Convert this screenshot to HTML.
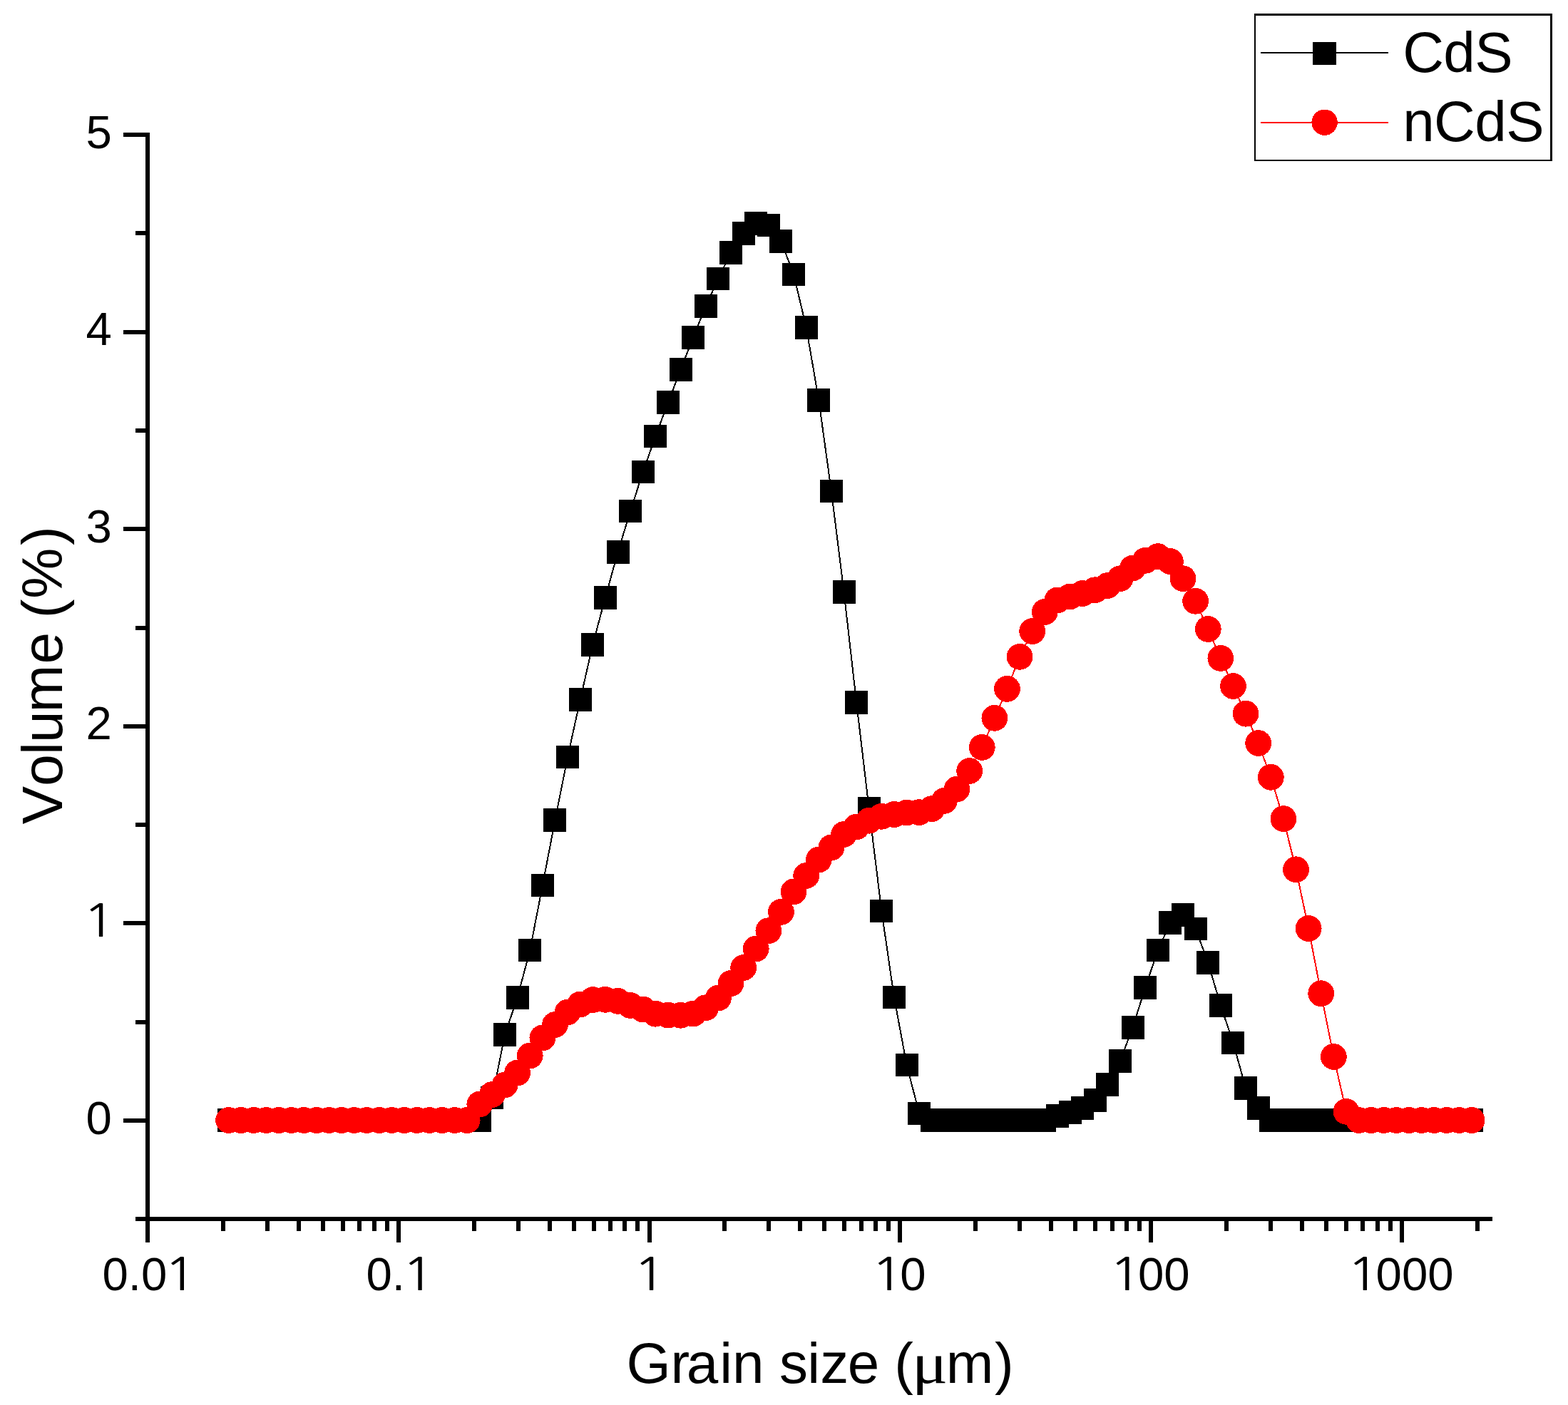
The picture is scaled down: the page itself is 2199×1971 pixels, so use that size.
<!DOCTYPE html><html><head><meta charset="utf-8"><title>Grain size distribution of CdS and nCdS</title><style>html,body{margin:0;padding:0;background:#fff}svg{display:block}svg{font-family:"Liberation Sans",Arial,sans-serif}text{fill:#000}</style></head><body>
<svg width="2199" height="1971" viewBox="0 0 2199 1971">
<rect width="2199" height="1971" fill="#fff"/>
<g stroke="#000" stroke-width="6" fill="none" shape-rendering="crispEdges">
<path d="M207 186V1713M204 1710H2093"/>
<path d="M190 1710.3H207"/>
<path d="M173 1572H207"/>
<path d="M190 1433.7H207"/>
<path d="M173 1295.4H207"/>
<path d="M190 1157.1H207"/>
<path d="M173 1018.8H207"/>
<path d="M190 880.5H207"/>
<path d="M173 742.2H207"/>
<path d="M190 603.9H207"/>
<path d="M173 465.6H207"/>
<path d="M190 327.3H207"/>
<path d="M173 189H207"/>
<path d="M207 1710V1742.5"/>
<path d="M312.9 1710V1726.5"/>
<path d="M374.84 1710V1726.5"/>
<path d="M418.79 1710V1726.5"/>
<path d="M452.88 1710V1726.5"/>
<path d="M480.74 1710V1726.5"/>
<path d="M504.29 1710V1726.5"/>
<path d="M524.69 1710V1726.5"/>
<path d="M542.68 1710V1726.5"/>
<path d="M558.78 1710V1742.5"/>
<path d="M664.68 1710V1726.5"/>
<path d="M726.62 1710V1726.5"/>
<path d="M770.57 1710V1726.5"/>
<path d="M804.66 1710V1726.5"/>
<path d="M832.52 1710V1726.5"/>
<path d="M856.07 1710V1726.5"/>
<path d="M876.47 1710V1726.5"/>
<path d="M894.46 1710V1726.5"/>
<path d="M910.56 1710V1742.5"/>
<path d="M1016.46 1710V1726.5"/>
<path d="M1078.4 1710V1726.5"/>
<path d="M1122.35 1710V1726.5"/>
<path d="M1156.44 1710V1726.5"/>
<path d="M1184.3 1710V1726.5"/>
<path d="M1207.85 1710V1726.5"/>
<path d="M1228.25 1710V1726.5"/>
<path d="M1246.24 1710V1726.5"/>
<path d="M1262.34 1710V1742.5"/>
<path d="M1368.24 1710V1726.5"/>
<path d="M1430.18 1710V1726.5"/>
<path d="M1474.13 1710V1726.5"/>
<path d="M1508.22 1710V1726.5"/>
<path d="M1536.08 1710V1726.5"/>
<path d="M1559.63 1710V1726.5"/>
<path d="M1580.03 1710V1726.5"/>
<path d="M1598.02 1710V1726.5"/>
<path d="M1614.12 1710V1742.5"/>
<path d="M1720.02 1710V1726.5"/>
<path d="M1781.96 1710V1726.5"/>
<path d="M1825.91 1710V1726.5"/>
<path d="M1860 1710V1726.5"/>
<path d="M1887.86 1710V1726.5"/>
<path d="M1911.41 1710V1726.5"/>
<path d="M1931.81 1710V1726.5"/>
<path d="M1949.8 1710V1726.5"/>
<path d="M1965.9 1710V1742.5"/>
<path d="M2071.8 1710V1726.5"/>
</g>
<text x="120.48" y="1590.6" font-size="65.3">0</text>
<text transform="scale(1.25 1)" x="92.47" y="1314" font-size="62.3" style="font-family:NanumGothic,Liberation Sans,sans-serif">1</text>
<text x="120.48" y="1037.4" font-size="65.3">2</text>
<text x="120.48" y="760.8" font-size="65.3">3</text>
<text x="120.48" y="484.2" font-size="65.3">4</text>
<text x="120.48" y="207.6" font-size="65.3">5</text>
<text x="143.45 179.77 197.91" y="1810" font-size="65.3">0.0</text>
<text transform="scale(1.25 1)" x="183.47" y="1810" font-size="62.3" style="font-family:NanumGothic,Liberation Sans,sans-serif">1</text>
<text x="513.39 549.71" y="1810" font-size="65.3">0.</text>
<text transform="scale(1.25 1)" x="450.36" y="1810" font-size="62.3" style="font-family:NanumGothic,Liberation Sans,sans-serif">1</text>
<text transform="scale(1.25 1)" x="710" y="1810" font-size="62.3" style="font-family:NanumGothic,Liberation Sans,sans-serif">1</text>
<text x="1262.34" y="1810" font-size="65.3">0</text>
<text transform="scale(1.25 1)" x="976.9" y="1810" font-size="62.3" style="font-family:NanumGothic,Liberation Sans,sans-serif">1</text>
<text x="1595.96 1632.28" y="1810" font-size="65.3">00</text>
<text transform="scale(1.25 1)" x="1243.8" y="1810" font-size="62.3" style="font-family:NanumGothic,Liberation Sans,sans-serif">1</text>
<text x="1929.58 1965.9 2002.22" y="1810" font-size="65.3">000</text>
<text transform="scale(1.25 1)" x="1510.7" y="1810" font-size="62.3" style="font-family:NanumGothic,Liberation Sans,sans-serif">1</text>
<text x="878.61 940.54 962.75 1009.13 1027.05 1093.08 1132.23 1150.22 1188.78 1254.33 1326.81 1394.88" y="1939.6" font-size="80">Grainsize(m)</text>
<text transform="scale(1.178 1)" x="1085.44" y="1939.6" font-size="80" style="font-family:Liberation Serif,serif">μ</text>
<text transform="translate(87.1 1160) rotate(-90)" x="3.72 57.35 101.04 118.01 160.86 228.58 292.88 320.23 395.08" y="0" font-size="80">Volume(%)</text>
<polyline points="320.58,1571.5 338.19,1571.5 355.8,1571.5 373.41,1571.5 391.02,1571.5 408.63,1571.5 426.25,1571.5 443.86,1571.5 461.47,1571.5 479.08,1571.5 496.69,1571.5 514.3,1571.5 531.91,1571.5 549.52,1571.5 567.13,1571.5 584.75,1571.5 602.36,1571.5 619.97,1571.5 637.58,1571.5 655.19,1571.5 672.8,1571.5 690.41,1540.2 708.02,1451.4 725.63,1399.5 743.24,1333 760.86,1242 778.47,1150.5 796.08,1061.9 813.69,981.7 831.3,904.3 848.91,838.4 866.52,774.5 884.13,716.9 901.74,661.9 919.35,612 936.96,564.5 954.58,518.4 972.19,473.4 989.8,429.5 1007.41,390.9 1025.02,354.3 1042.63,327.5 1060.24,313.6 1077.85,315.9 1095.46,338.5 1113.08,384.9 1130.69,459.4 1148.3,561.6 1165.91,689.2 1183.52,830.4 1201.13,985.4 1218.74,1134.5 1236.35,1277.9 1253.96,1399.2 1271.57,1493.8 1289.18,1562.2 1306.8,1571.5 1324.41,1571.5 1342.02,1571.5 1359.63,1571.5 1377.24,1571.5 1394.85,1571.5 1412.46,1571.5 1430.07,1571.5 1447.68,1571.5 1465.3,1571.5 1482.91,1565.5 1500.52,1560.4 1518.13,1554.5 1535.74,1543.3 1553.35,1521.5 1570.96,1488.5 1588.57,1441.4 1606.18,1385.5 1623.79,1333 1641.4,1294.4 1659.02,1283.3 1676.63,1302.9 1694.24,1350.5 1711.85,1410.5 1729.46,1463 1747.07,1526.4 1764.68,1554.4 1782.29,1571.5 1799.9,1571.5 1817.51,1571.5 1835.13,1571.5 1852.74,1571.5 1870.35,1571.5 1887.96,1571.5 1905.57,1571.5 1923.18,1571.5 1940.79,1571.5 1958.4,1571.5 1976.01,1571.5 1993.62,1571.5 2011.24,1571.5 2028.85,1571.5 2046.46,1571.5 2064.07,1571.5" fill="none" stroke="#000" stroke-width="2" shape-rendering="crispEdges"/>
<g fill="#000" shape-rendering="crispEdges">
<rect x="304.58" y="1555.25" width="32" height="32.5"/>
<rect x="322.19" y="1555.25" width="32" height="32.5"/>
<rect x="339.8" y="1555.25" width="32" height="32.5"/>
<rect x="357.41" y="1555.25" width="32" height="32.5"/>
<rect x="375.02" y="1555.25" width="32" height="32.5"/>
<rect x="392.63" y="1555.25" width="32" height="32.5"/>
<rect x="410.25" y="1555.25" width="32" height="32.5"/>
<rect x="427.86" y="1555.25" width="32" height="32.5"/>
<rect x="445.47" y="1555.25" width="32" height="32.5"/>
<rect x="463.08" y="1555.25" width="32" height="32.5"/>
<rect x="480.69" y="1555.25" width="32" height="32.5"/>
<rect x="498.3" y="1555.25" width="32" height="32.5"/>
<rect x="515.91" y="1555.25" width="32" height="32.5"/>
<rect x="533.52" y="1555.25" width="32" height="32.5"/>
<rect x="551.13" y="1555.25" width="32" height="32.5"/>
<rect x="568.75" y="1555.25" width="32" height="32.5"/>
<rect x="586.36" y="1555.25" width="32" height="32.5"/>
<rect x="603.97" y="1555.25" width="32" height="32.5"/>
<rect x="621.58" y="1555.25" width="32" height="32.5"/>
<rect x="639.19" y="1555.25" width="32" height="32.5"/>
<rect x="656.8" y="1555.25" width="32" height="32.5"/>
<rect x="674.41" y="1523.95" width="32" height="32.5"/>
<rect x="692.02" y="1435.15" width="32" height="32.5"/>
<rect x="709.63" y="1383.25" width="32" height="32.5"/>
<rect x="727.24" y="1316.75" width="32" height="32.5"/>
<rect x="744.86" y="1225.75" width="32" height="32.5"/>
<rect x="762.47" y="1134.25" width="32" height="32.5"/>
<rect x="780.08" y="1045.65" width="32" height="32.5"/>
<rect x="797.69" y="965.45" width="32" height="32.5"/>
<rect x="815.3" y="888.05" width="32" height="32.5"/>
<rect x="832.91" y="822.15" width="32" height="32.5"/>
<rect x="850.52" y="758.25" width="32" height="32.5"/>
<rect x="868.13" y="700.65" width="32" height="32.5"/>
<rect x="885.74" y="645.65" width="32" height="32.5"/>
<rect x="903.35" y="595.75" width="32" height="32.5"/>
<rect x="920.96" y="548.25" width="32" height="32.5"/>
<rect x="938.58" y="502.15" width="32" height="32.5"/>
<rect x="956.19" y="457.15" width="32" height="32.5"/>
<rect x="973.8" y="413.25" width="32" height="32.5"/>
<rect x="991.41" y="374.65" width="32" height="32.5"/>
<rect x="1009.02" y="338.05" width="32" height="32.5"/>
<rect x="1026.63" y="311.25" width="32" height="32.5"/>
<rect x="1044.24" y="297.35" width="32" height="32.5"/>
<rect x="1061.85" y="299.65" width="32" height="32.5"/>
<rect x="1079.46" y="322.25" width="32" height="32.5"/>
<rect x="1097.08" y="368.65" width="32" height="32.5"/>
<rect x="1114.69" y="443.15" width="32" height="32.5"/>
<rect x="1132.3" y="545.35" width="32" height="32.5"/>
<rect x="1149.91" y="672.95" width="32" height="32.5"/>
<rect x="1167.52" y="814.15" width="32" height="32.5"/>
<rect x="1185.13" y="969.15" width="32" height="32.5"/>
<rect x="1202.74" y="1118.25" width="32" height="32.5"/>
<rect x="1220.35" y="1261.65" width="32" height="32.5"/>
<rect x="1237.96" y="1382.95" width="32" height="32.5"/>
<rect x="1255.57" y="1477.55" width="32" height="32.5"/>
<rect x="1273.18" y="1545.95" width="32" height="32.5"/>
<rect x="1290.8" y="1555.25" width="32" height="32.5"/>
<rect x="1308.41" y="1555.25" width="32" height="32.5"/>
<rect x="1326.02" y="1555.25" width="32" height="32.5"/>
<rect x="1343.63" y="1555.25" width="32" height="32.5"/>
<rect x="1361.24" y="1555.25" width="32" height="32.5"/>
<rect x="1378.85" y="1555.25" width="32" height="32.5"/>
<rect x="1396.46" y="1555.25" width="32" height="32.5"/>
<rect x="1414.07" y="1555.25" width="32" height="32.5"/>
<rect x="1431.68" y="1555.25" width="32" height="32.5"/>
<rect x="1449.3" y="1555.25" width="32" height="32.5"/>
<rect x="1466.91" y="1549.25" width="32" height="32.5"/>
<rect x="1484.52" y="1544.15" width="32" height="32.5"/>
<rect x="1502.13" y="1538.25" width="32" height="32.5"/>
<rect x="1519.74" y="1527.05" width="32" height="32.5"/>
<rect x="1537.35" y="1505.25" width="32" height="32.5"/>
<rect x="1554.96" y="1472.25" width="32" height="32.5"/>
<rect x="1572.57" y="1425.15" width="32" height="32.5"/>
<rect x="1590.18" y="1369.25" width="32" height="32.5"/>
<rect x="1607.79" y="1316.75" width="32" height="32.5"/>
<rect x="1625.4" y="1278.15" width="32" height="32.5"/>
<rect x="1643.02" y="1267.05" width="32" height="32.5"/>
<rect x="1660.63" y="1286.65" width="32" height="32.5"/>
<rect x="1678.24" y="1334.25" width="32" height="32.5"/>
<rect x="1695.85" y="1394.25" width="32" height="32.5"/>
<rect x="1713.46" y="1446.75" width="32" height="32.5"/>
<rect x="1731.07" y="1510.15" width="32" height="32.5"/>
<rect x="1748.68" y="1538.15" width="32" height="32.5"/>
<rect x="1766.29" y="1555.25" width="32" height="32.5"/>
<rect x="1783.9" y="1555.25" width="32" height="32.5"/>
<rect x="1801.51" y="1555.25" width="32" height="32.5"/>
<rect x="1819.13" y="1555.25" width="32" height="32.5"/>
<rect x="1836.74" y="1555.25" width="32" height="32.5"/>
<rect x="1854.35" y="1555.25" width="32" height="32.5"/>
<rect x="1871.96" y="1555.25" width="32" height="32.5"/>
<rect x="1889.57" y="1555.25" width="32" height="32.5"/>
<rect x="1907.18" y="1555.25" width="32" height="32.5"/>
<rect x="1924.79" y="1555.25" width="32" height="32.5"/>
<rect x="1942.4" y="1555.25" width="32" height="32.5"/>
<rect x="1960.01" y="1555.25" width="32" height="32.5"/>
<rect x="1977.62" y="1555.25" width="32" height="32.5"/>
<rect x="1995.24" y="1555.25" width="32" height="32.5"/>
<rect x="2012.85" y="1555.25" width="32" height="32.5"/>
<rect x="2030.46" y="1555.25" width="32" height="32.5"/>
<rect x="2048.07" y="1555.25" width="32" height="32.5"/>
</g>
<polyline points="320.58,1571.5 338.19,1571.5 355.8,1571.5 373.41,1571.5 391.02,1571.5 408.63,1571.5 426.25,1571.5 443.86,1571.5 461.47,1571.5 479.08,1571.5 496.69,1571.5 514.3,1571.5 531.91,1571.5 549.52,1571.5 567.13,1571.5 584.75,1571.5 602.36,1571.5 619.97,1571.5 637.58,1571.5 655.19,1571.5 672.8,1549 690.41,1535.5 708.02,1522 725.63,1505 743.24,1481 760.86,1456 778.47,1437.5 796.08,1420 813.69,1409 831.3,1402.6 848.91,1402.3 866.52,1404.4 884.13,1410.4 901.74,1416 919.35,1422.2 936.96,1424.1 954.58,1424.3 972.19,1422.1 989.8,1413.7 1007.41,1400 1025.02,1379.5 1042.63,1357.5 1060.24,1331 1077.85,1305.7 1095.46,1279.4 1113.08,1250.9 1130.69,1228.4 1148.3,1206 1165.91,1189 1183.52,1170.5 1201.13,1160 1218.74,1151.2 1236.35,1145.3 1253.96,1142.5 1271.57,1140 1289.18,1139.6 1306.8,1134.6 1324.41,1123.4 1342.02,1107 1359.63,1081.5 1377.24,1048.4 1394.85,1007.3 1412.46,966.4 1430.07,921.3 1447.68,885.6 1465.3,858.5 1482.91,842 1500.52,837 1518.13,832.5 1535.74,827.7 1553.35,821.5 1570.96,811.7 1588.57,797 1606.18,786.3 1623.79,780.6 1641.4,787.6 1659.02,811.7 1676.63,843.3 1694.24,882.5 1711.85,923.4 1729.46,962.5 1747.07,1001.2 1764.68,1042.5 1782.29,1090.3 1799.9,1148.6 1817.51,1219.8 1835.13,1302.5 1852.74,1393.7 1870.35,1482.4 1887.96,1559.3 1905.57,1571.5 1923.18,1571.5 1940.79,1571.5 1958.4,1571.5 1976.01,1571.5 1993.62,1571.5 2011.24,1571.5 2028.85,1571.5 2046.46,1571.5 2064.07,1571.5" fill="none" stroke="#f00" stroke-width="2" shape-rendering="crispEdges"/>
<g fill="#f00" shape-rendering="crispEdges">
<circle cx="320.58" cy="1571.5" r="18.4"/>
<circle cx="338.19" cy="1571.5" r="18.4"/>
<circle cx="355.8" cy="1571.5" r="18.4"/>
<circle cx="373.41" cy="1571.5" r="18.4"/>
<circle cx="391.02" cy="1571.5" r="18.4"/>
<circle cx="408.63" cy="1571.5" r="18.4"/>
<circle cx="426.25" cy="1571.5" r="18.4"/>
<circle cx="443.86" cy="1571.5" r="18.4"/>
<circle cx="461.47" cy="1571.5" r="18.4"/>
<circle cx="479.08" cy="1571.5" r="18.4"/>
<circle cx="496.69" cy="1571.5" r="18.4"/>
<circle cx="514.3" cy="1571.5" r="18.4"/>
<circle cx="531.91" cy="1571.5" r="18.4"/>
<circle cx="549.52" cy="1571.5" r="18.4"/>
<circle cx="567.13" cy="1571.5" r="18.4"/>
<circle cx="584.75" cy="1571.5" r="18.4"/>
<circle cx="602.36" cy="1571.5" r="18.4"/>
<circle cx="619.97" cy="1571.5" r="18.4"/>
<circle cx="637.58" cy="1571.5" r="18.4"/>
<circle cx="655.19" cy="1571.5" r="18.4"/>
<circle cx="672.8" cy="1549" r="18.4"/>
<circle cx="690.41" cy="1535.5" r="18.4"/>
<circle cx="708.02" cy="1522" r="18.4"/>
<circle cx="725.63" cy="1505" r="18.4"/>
<circle cx="743.24" cy="1481" r="18.4"/>
<circle cx="760.86" cy="1456" r="18.4"/>
<circle cx="778.47" cy="1437.5" r="18.4"/>
<circle cx="796.08" cy="1420" r="18.4"/>
<circle cx="813.69" cy="1409" r="18.4"/>
<circle cx="831.3" cy="1402.6" r="18.4"/>
<circle cx="848.91" cy="1402.3" r="18.4"/>
<circle cx="866.52" cy="1404.4" r="18.4"/>
<circle cx="884.13" cy="1410.4" r="18.4"/>
<circle cx="901.74" cy="1416" r="18.4"/>
<circle cx="919.35" cy="1422.2" r="18.4"/>
<circle cx="936.96" cy="1424.1" r="18.4"/>
<circle cx="954.58" cy="1424.3" r="18.4"/>
<circle cx="972.19" cy="1422.1" r="18.4"/>
<circle cx="989.8" cy="1413.7" r="18.4"/>
<circle cx="1007.41" cy="1400" r="18.4"/>
<circle cx="1025.02" cy="1379.5" r="18.4"/>
<circle cx="1042.63" cy="1357.5" r="18.4"/>
<circle cx="1060.24" cy="1331" r="18.4"/>
<circle cx="1077.85" cy="1305.7" r="18.4"/>
<circle cx="1095.46" cy="1279.4" r="18.4"/>
<circle cx="1113.08" cy="1250.9" r="18.4"/>
<circle cx="1130.69" cy="1228.4" r="18.4"/>
<circle cx="1148.3" cy="1206" r="18.4"/>
<circle cx="1165.91" cy="1189" r="18.4"/>
<circle cx="1183.52" cy="1170.5" r="18.4"/>
<circle cx="1201.13" cy="1160" r="18.4"/>
<circle cx="1218.74" cy="1151.2" r="18.4"/>
<circle cx="1236.35" cy="1145.3" r="18.4"/>
<circle cx="1253.96" cy="1142.5" r="18.4"/>
<circle cx="1271.57" cy="1140" r="18.4"/>
<circle cx="1289.18" cy="1139.6" r="18.4"/>
<circle cx="1306.8" cy="1134.6" r="18.4"/>
<circle cx="1324.41" cy="1123.4" r="18.4"/>
<circle cx="1342.02" cy="1107" r="18.4"/>
<circle cx="1359.63" cy="1081.5" r="18.4"/>
<circle cx="1377.24" cy="1048.4" r="18.4"/>
<circle cx="1394.85" cy="1007.3" r="18.4"/>
<circle cx="1412.46" cy="966.4" r="18.4"/>
<circle cx="1430.07" cy="921.3" r="18.4"/>
<circle cx="1447.68" cy="885.6" r="18.4"/>
<circle cx="1465.3" cy="858.5" r="18.4"/>
<circle cx="1482.91" cy="842" r="18.4"/>
<circle cx="1500.52" cy="837" r="18.4"/>
<circle cx="1518.13" cy="832.5" r="18.4"/>
<circle cx="1535.74" cy="827.7" r="18.4"/>
<circle cx="1553.35" cy="821.5" r="18.4"/>
<circle cx="1570.96" cy="811.7" r="18.4"/>
<circle cx="1588.57" cy="797" r="18.4"/>
<circle cx="1606.18" cy="786.3" r="18.4"/>
<circle cx="1623.79" cy="780.6" r="18.4"/>
<circle cx="1641.4" cy="787.6" r="18.4"/>
<circle cx="1659.02" cy="811.7" r="18.4"/>
<circle cx="1676.63" cy="843.3" r="18.4"/>
<circle cx="1694.24" cy="882.5" r="18.4"/>
<circle cx="1711.85" cy="923.4" r="18.4"/>
<circle cx="1729.46" cy="962.5" r="18.4"/>
<circle cx="1747.07" cy="1001.2" r="18.4"/>
<circle cx="1764.68" cy="1042.5" r="18.4"/>
<circle cx="1782.29" cy="1090.3" r="18.4"/>
<circle cx="1799.9" cy="1148.6" r="18.4"/>
<circle cx="1817.51" cy="1219.8" r="18.4"/>
<circle cx="1835.13" cy="1302.5" r="18.4"/>
<circle cx="1852.74" cy="1393.7" r="18.4"/>
<circle cx="1870.35" cy="1482.4" r="18.4"/>
<circle cx="1887.96" cy="1559.3" r="18.4"/>
<circle cx="1905.57" cy="1571.5" r="18.4"/>
<circle cx="1923.18" cy="1571.5" r="18.4"/>
<circle cx="1940.79" cy="1571.5" r="18.4"/>
<circle cx="1958.4" cy="1571.5" r="18.4"/>
<circle cx="1976.01" cy="1571.5" r="18.4"/>
<circle cx="1993.62" cy="1571.5" r="18.4"/>
<circle cx="2011.24" cy="1571.5" r="18.4"/>
<circle cx="2028.85" cy="1571.5" r="18.4"/>
<circle cx="2046.46" cy="1571.5" r="18.4"/>
<circle cx="2064.07" cy="1571.5" r="18.4"/>
</g>
<g shape-rendering="crispEdges">
<rect x="1760" y="20.6" width="415.2" height="204.4" fill="none" stroke="#000" stroke-width="2.8"/>
<path d="M1768 74.3H1947" stroke="#000" stroke-width="2"/>
<rect x="1841" y="59.2" width="33" height="31.7" fill="#000"/>
<path d="M1768 171.8H1947" stroke="#f00" stroke-width="2"/>
</g>
<circle cx="1857.6" cy="171.7" r="18.2" fill="#f00" shape-rendering="crispEdges"/>
<text font-size="80" x="1967.2" y="101" letter-spacing="-0.6">CdS</text>
<text font-size="80" x="1967.2" y="198" letter-spacing="-0.6">nCdS</text>
</svg></body></html>
